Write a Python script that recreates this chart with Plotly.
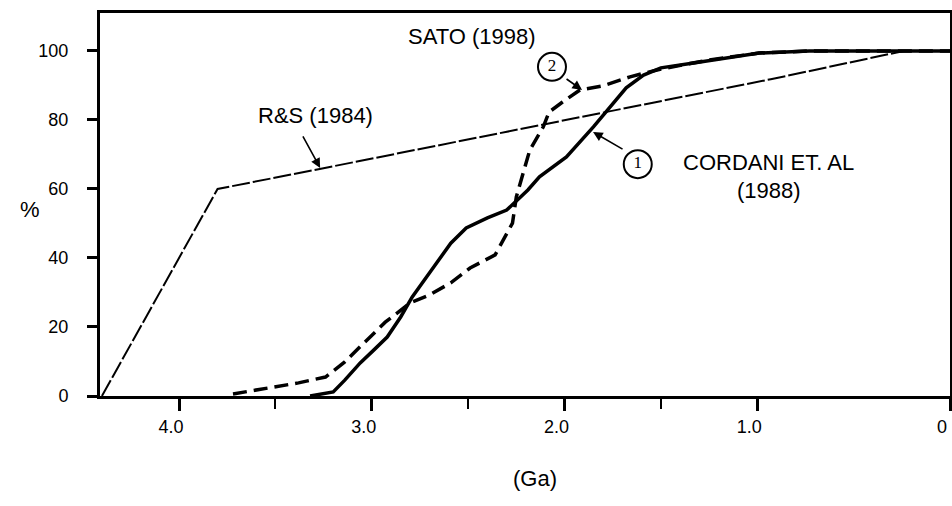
import plotly.graph_objects as go

# ---- data (age in Ga, cumulative %) ----
rs_age = [4.40, 3.99, 3.80, 3.27, 2.44, 1.82, 0.93, 0.24, 0.0]
rs_pct = [0.0, 40.9, 60.0, 65.8, 75.0, 81.8, 91.8, 100.0, 100.0]

sato_age = [3.72, 3.55, 3.38, 3.24, 3.14, 3.04, 2.93, 2.80, 2.70, 2.59, 2.49, 2.36,
            2.31, 2.27, 2.25, 2.22, 2.18, 2.11, 2.08, 2.01, 1.92, 1.80, 1.66, 1.52,
            1.25, 0.99, 0.73, 0.0]
sato_pct = [0.6, 2.3, 3.8, 5.5, 9.9, 15.4, 21.4, 27.0, 29.3, 32.8, 37.1, 40.9,
            45.8, 50.1, 57.7, 63.5, 71.3, 78.0, 82.3, 85.2, 88.7, 89.9, 92.5, 94.5,
            97.4, 99.4, 100.0, 100.0]

cordani_age = [3.32, 3.20, 3.14, 3.06, 2.99, 2.92, 2.85, 2.79, 2.70, 2.59, 2.51, 2.40,
               2.30, 2.19, 2.13, 1.99, 1.85, 1.76, 1.68, 1.59, 1.50, 1.33, 1.16, 0.99,
               0.73, 0.0]
cordani_pct = [0.0, 1.2, 4.6, 9.6, 13.3, 17.1, 22.9, 28.7, 35.7, 44.3, 48.7, 51.6,
               53.9, 59.7, 63.5, 69.3, 78.0, 83.8, 89.3, 93.0, 95.1, 96.5, 98.0, 99.4,
               100.0, 100.0]

x_tickvals = [4.0, 3.0, 2.0, 1.0, 0.0]
x_ticktext = ["4.0", "3.0", "2.0", "1.0", "0"]
x_minor = [3.5, 2.5, 1.5]
y_tickvals = [0, 20, 40, 60, 80, 100]

# circled curve numbers
circle_age = [2.065, 1.62]
circle_pct = [95.4, 67.2]
circle_txt = ["2", "1"]

SANS = "Liberation Sans, Arial, sans-serif"
SERIF = "Liberation Serif, Times New Roman, serif"

fig = go.Figure()
fig.add_trace(go.Scatter(x=rs_age, y=rs_pct, mode="lines", name="R&S (1984)",
                         line=dict(color="black", width=2, dash="18px,3px")))
fig.add_trace(go.Scatter(x=sato_age, y=sato_pct, mode="lines", name="SATO (1998)",
                         line=dict(color="black", width=3.5, dash="14px,7px")))
fig.add_trace(go.Scatter(x=cordani_age, y=cordani_pct, mode="lines", name="CORDANI ET. AL (1988)",
                         line=dict(color="black", width=3.5)))
fig.add_trace(go.Scatter(x=circle_age, y=circle_pct, mode="markers+text", text=circle_txt,
                         textposition="middle center",
                         textfont=dict(family=SERIF, size=17, color="black"),
                         marker=dict(symbol="circle", size=28, color="white",
                                     line=dict(color="black", width=2)),
                         cliponaxis=False))

ann = [
    dict(x=2.48, y=104.3, text="SATO (1998)"),
    dict(x=3.29, y=81.4, text="R&S (1984)"),
    dict(x=0.94, y=67.8, text="CORDANI ET. AL"),
    dict(x=0.94, y=59.6, text="(1988)"),
]
for a in ann:
    fig.add_annotation(x=a["x"], y=a["y"], xref="x", yref="y", text=a["text"],
                       showarrow=False, font=dict(family=SANS, size=22, color="black"))

# leader arrows
arrows = [
    dict(x=1.909, y=88.7, ax=-17, ay=-12),
    dict(x=1.852, y=76.5, ax=31, ay=18),
    dict(x=3.268, y=66.1, ax=-18, ay=-33),
]
for a in arrows:
    fig.add_annotation(x=a["x"], y=a["y"], xref="x", yref="y", text="",
                       showarrow=True, ax=a["ax"], ay=a["ay"],
                       arrowhead=2, arrowsize=1.2, arrowwidth=1.6, arrowcolor="black",
                       standoff=0)

fig.add_annotation(x=-0.0965, y=0.486, xref="paper", yref="paper", text="%",
                   showarrow=False, font=dict(family=SANS, size=22, color="black"))
fig.add_annotation(x=0.5112, y=-0.253, xref="paper", yref="paper", text="(Ga)",
                   showarrow=False, font=dict(family=SANS, size=22, color="black"))

fig.update_xaxes(range=[4.41, 0.0], tickvals=x_tickvals, ticktext=x_ticktext,
                 ticks="outside", ticklen=12, tickwidth=3, tickcolor="black",
                 showline=True, linewidth=3, linecolor="black", mirror=True,
                 showgrid=False, zeroline=False, automargin=False,
                 ticklabeloverflow="allow", ticklabelshift=8,
                 minor=dict(tickvals=x_minor, ticks="outside", ticklen=10, tickwidth=2,
                            tickcolor="black", showgrid=False),
                 tickfont=dict(family=SANS, size=18, color="black"))
fig.update_yaxes(range=[0, 111], tickvals=y_tickvals,
                 ticks="outside", ticklen=10, tickwidth=3, tickcolor="black",
                 showline=True, linewidth=3, linecolor="black", mirror=True,
                 showgrid=False, zeroline=False, ticklabelstandoff=15, automargin=False,
                 tickfont=dict(family=SANS, size=18, color="black"))

fig.update_layout(width=952, height=506, showlegend=False,
                  margin=dict(l=100, r=2, t=13, b=110, pad=0),
                  plot_bgcolor="white", paper_bgcolor="white")

fig.write_html("out.html")
